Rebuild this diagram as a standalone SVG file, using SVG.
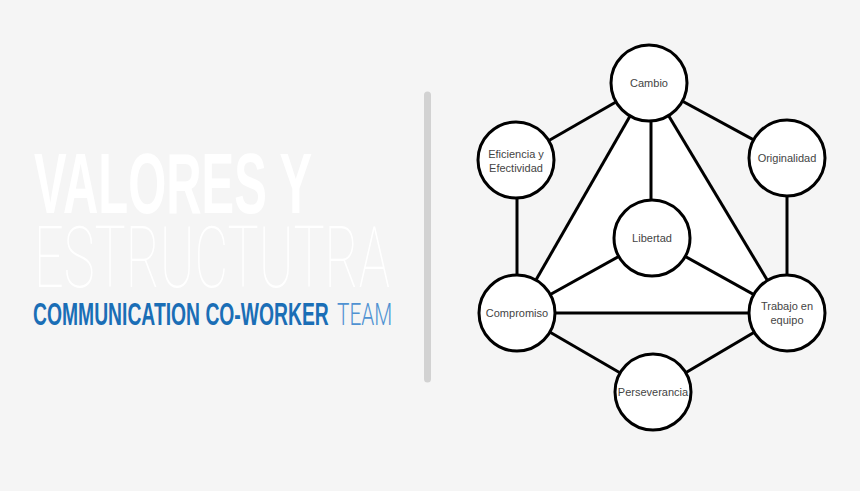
<svg xmlns="http://www.w3.org/2000/svg" width="860" height="491" viewBox="0 0 860 491">
<style>
.edge{stroke:#000;stroke-width:3;fill:none}
.node circle{fill:#fff;stroke:#000;stroke-width:3}
.node text{font-family:"Liberation Sans",Arial,sans-serif;font-size:11px;fill:#444;text-anchor:middle}
.title{font-family:"Liberation Sans",Arial,sans-serif}
.thin{font-family:Roboto,"Liberation Sans",sans-serif;font-weight:100}
</style>
<rect width="860" height="491" fill="#f5f5f5"/>
<text class="title" transform="translate(34,213) scale(0.57,1)" x="0" y="0" font-size="85" font-weight="bold" fill="#ffffff" textLength="488" lengthAdjust="spacingAndGlyphs">VALORES Y</text>
<text class="thin" transform="translate(34,287) scale(0.6,1)" x="0" y="0" font-size="86" fill="#ffffff" textLength="593" lengthAdjust="spacingAndGlyphs">ESTRUCTUTRA</text>
<text class="title" transform="translate(33,325) scale(0.6,1)" x="0" y="0" font-size="32" font-weight="bold" fill="#1a6eb6" textLength="493" lengthAdjust="spacingAndGlyphs">COMMUNICATION CO-WORKER</text>
<text transform="translate(337,325) scale(0.62,1)" x="0" y="0" font-family="Roboto,'Liberation Sans',sans-serif" font-weight="300" font-size="32" fill="#4f92d2" textLength="89" lengthAdjust="spacingAndGlyphs">TEAM</text>
<line x1="427.5" y1="95" x2="427.5" y2="379" stroke="#d2d2d2" stroke-width="7" stroke-linecap="round"/>
<polygon points="649,83 517,313 787,313" fill="#ffffff"/>
<g id="connectors">
<line class="edge" x1="649" y1="83" x2="515" y2="160"/>
<line class="edge" x1="649" y1="83" x2="787" y2="158"/>
<line class="edge" x1="651" y1="83" x2="651" y2="238"/>
<line class="edge" x1="649" y1="83" x2="517" y2="313"/>
<line class="edge" x1="649" y1="83" x2="787" y2="313"/>
<line class="edge" x1="517" y1="160" x2="517" y2="313"/>
<line class="edge" x1="787" y1="158" x2="787" y2="313"/>
<line class="edge" x1="652" y1="238" x2="517" y2="313"/>
<line class="edge" x1="652" y1="238" x2="787" y2="313"/>
<line class="edge" x1="517" y1="313" x2="787" y2="313"/>
<line class="edge" x1="517" y1="313" x2="653" y2="392"/>
<line class="edge" x1="787" y1="313" x2="653" y2="392"/>
</g>
<g id="cambio" class="node"><circle cx="649" cy="83" r="38"/><text x="649" y="87">Cambio</text></g>
<g id="eficiencia" class="node"><circle cx="516" cy="160" r="38"/><text x="516" y="158">Eficiencia y</text><text x="516" y="172">Efectividad</text></g>
<g id="originalidad" class="node"><circle cx="787" cy="158" r="38"/><text x="787" y="162">Originalidad</text></g>
<g id="libertad" class="node"><circle cx="652" cy="238" r="38"/><text x="652" y="242">Libertad</text></g>
<g id="compromiso" class="node"><circle cx="517" cy="313" r="38"/><text x="517" y="317">Compromiso</text></g>
<g id="trabajo" class="node"><circle cx="787" cy="313" r="38"/><text x="787" y="310">Trabajo en</text><text x="787" y="324">equipo</text></g>
<g id="perseverancia" class="node"><circle cx="653" cy="392" r="38"/><text x="653" y="396">Perseverancia</text></g>
</svg>
